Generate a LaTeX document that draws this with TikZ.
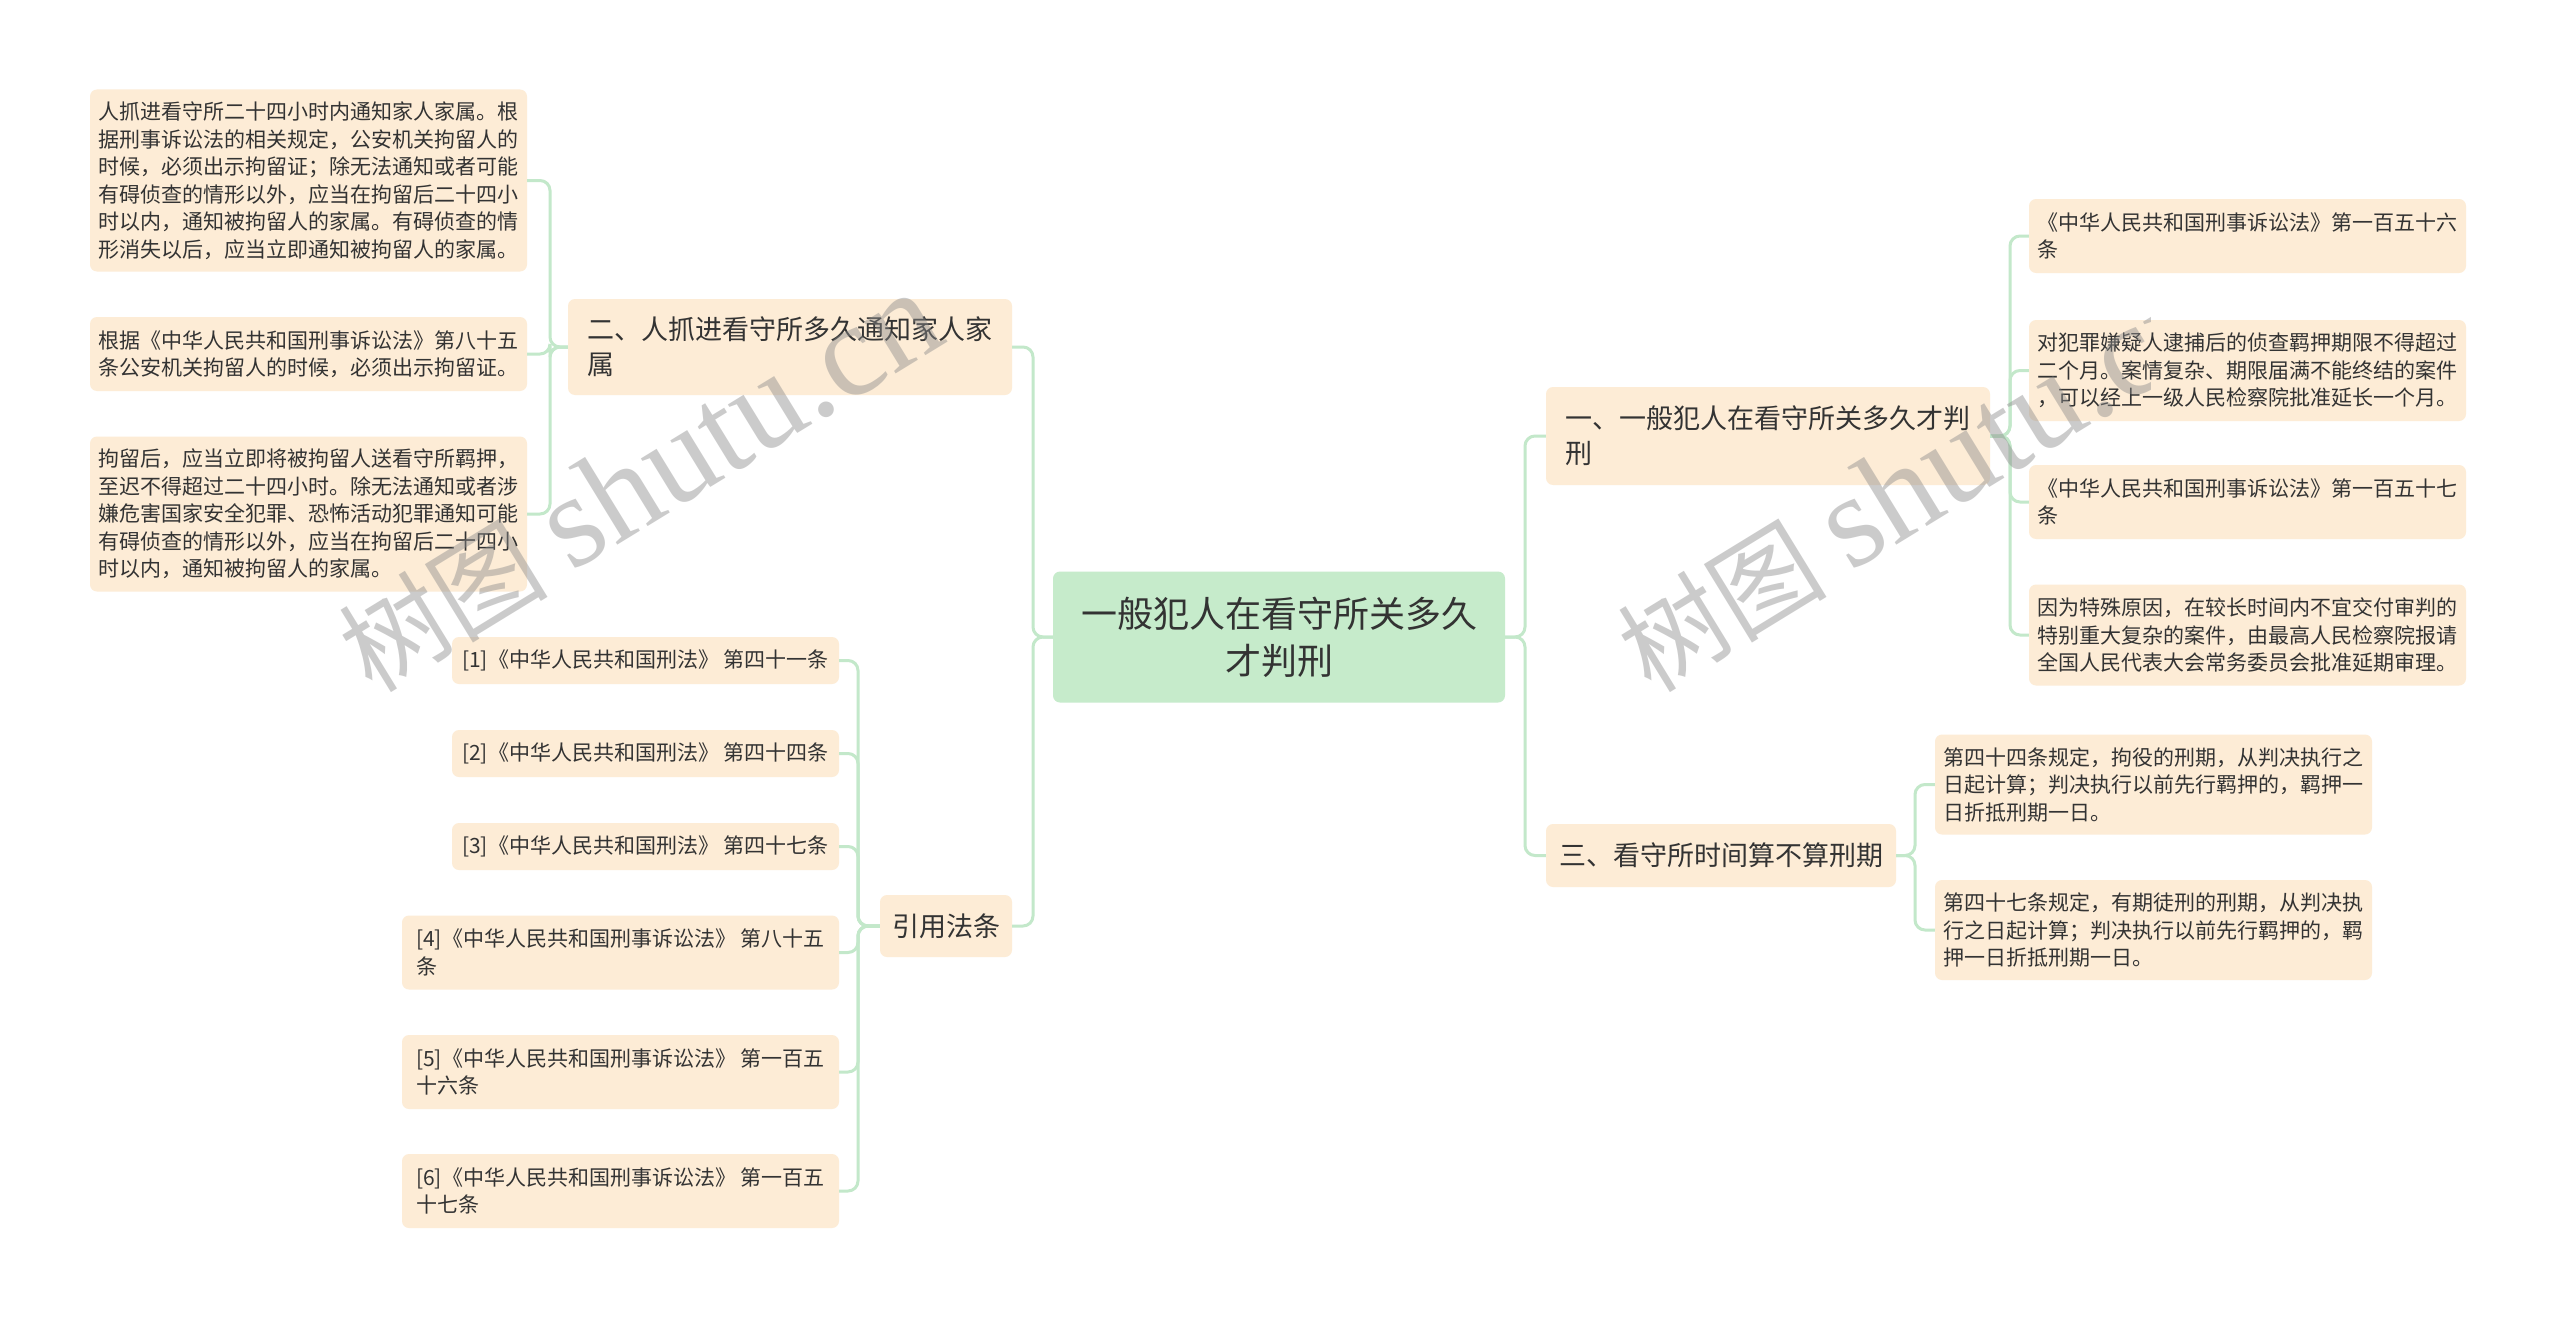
\documentclass[tikz,border=0pt]{standalone}
\usepackage{fontspec}
\setmainfont{Noto Sans CJK SC}
\newfontfamily\wmlatin{Liberation Serif}
\definecolor{peach}{HTML}{FDECD6}
\definecolor{rootgreen}{HTML}{C6EBCB}
\definecolor{connc}{HTML}{C3E8CA}
\definecolor{txt}{HTML}{333333}
\definecolor{wmgray}{HTML}{8A8A8A}
\begin{document}
\begin{tikzpicture}[x=1pt,y=-1pt,
  leaf/.style={fill=peach, rounded corners=7pt, inner sep=0pt, align=left, text=txt,
    font=\fontsize{21}{27.5}\selectfont, minimum width=437pt},
  branch/.style={fill=peach, rounded corners=7pt, inner sep=0pt, align=left, text=txt,
    font=\fontsize{27}{35}\selectfont},
  rootbox/.style={fill=rootgreen, rounded corners=7pt, inner sep=0pt, align=center, text=txt,
    font=\fontsize{36}{47}\selectfont},
  conn/.style={draw=connc, line width=3pt, rounded corners=10pt},
  wm/.style={rotate=31.5, anchor=base west, inner sep=0pt, text=wmgray, text opacity=0.44}]

\fill[white] (0,0) rectangle (2560,1319);
\useasboundingbox (0,0) rectangle (2560,1319);

% root
\node[rootbox, minimum width=452pt, minimum height=131pt] (root) at (1279,637) {一般犯人在看守所关多久\\才判刑};

% left branch 二
\node[branch, minimum width=444pt, minimum height=96pt] (er) at (790,347) {二、人抓进看守所多久通知家人家\\属};
\node[leaf, minimum height=182pt] (l1) at (308.5,180.5) {人抓进看守所二十四小时内通知家人家属。根\\据刑事诉讼法的相关规定，公安机关拘留人的\\时候，必须出示拘留证；除无法通知或者可能\\有碍侦查的情形以外，应当在拘留后二十四小\\时以内，通知被拘留人的家属。有碍侦查的情\\形消失以后，应当立即通知被拘留人的家属。};
\node[leaf, minimum height=74pt] (l2) at (308.5,354) {根据《中华人民共和国刑事诉讼法》第八十五\\条公安机关拘留人的时候，必须出示拘留证。};
\node[leaf, minimum height=155pt] (l3) at (308.5,514) {拘留后，应当立即将被拘留人送看守所羁押，\\至迟不得超过二十四小时。除无法通知或者涉\\嫌危害国家安全犯罪、恐怖活动犯罪通知可能\\有碍侦查的情形以外，应当在拘留后二十四小\\时以内，通知被拘留人的家属。};

% left branch 引用法条
\node[branch, minimum width=132pt, minimum height=62pt] (yf) at (946,926) {引用法条};
\node[leaf, minimum width=387pt, minimum height=47pt] (c1) at (645.5,660.5) {[1]《中华人民共和国刑法》 第四十一条};
\node[leaf, minimum width=387pt, minimum height=47pt] (c2) at (645.5,753.5) {[2]《中华人民共和国刑法》 第四十四条};
\node[leaf, minimum width=387pt, minimum height=47pt] (c3) at (645.5,846.5) {[3]《中华人民共和国刑法》 第四十七条};
\node[leaf, minimum height=74pt] (c4) at (620.5,952.5) {[4]《中华人民共和国刑事诉讼法》 第八十五\\条};
\node[leaf, minimum height=74pt] (c5) at (620.5,1072) {[5]《中华人民共和国刑事诉讼法》 第一百五\\十六条};
\node[leaf, minimum height=74pt] (c6) at (620.5,1191) {[6]《中华人民共和国刑事诉讼法》 第一百五\\十七条};

% right branch 一
\node[branch, minimum width=444pt, minimum height=98pt] (yi) at (1768,436) {一、一般犯人在看守所关多久才判\\刑};
\node[leaf, minimum height=74pt] (r1) at (2247.5,236) {《中华人民共和国刑事诉讼法》第一百五十六\\条};
\node[leaf, minimum height=101pt] (r2) at (2247.5,370.5) {对犯罪嫌疑人逮捕后的侦查羁押期限不得超过\\二个月。案情复杂、期限届满不能终结的案件\\，可以经上一级人民检察院批准延长一个月。};
\node[leaf, minimum height=74pt] (r3) at (2247.5,502) {《中华人民共和国刑事诉讼法》第一百五十七\\条};
\node[leaf, minimum height=101pt] (r4) at (2247.5,635) {因为特殊原因，在较长时间内不宜交付审判的\\特别重大复杂的案件，由最高人民检察院报请\\全国人民代表大会常务委员会批准延期审理。};

% right branch 三
\node[branch, minimum width=350pt, minimum height=63pt] (san) at (1721,855.5) {三、看守所时间算不算刑期};
\node[leaf, minimum height=100pt] (t1) at (2153.5,784.5) {第四十四条规定，拘役的刑期，从判决执行之\\日起计算；判决执行以前先行羁押的，羁押一\\日折抵刑期一日。};
\node[leaf, minimum height=100pt] (t2) at (2153.5,930) {第四十七条规定，有期徒刑的刑期，从判决执\\行之日起计算；判决执行以前先行羁押的，羁\\押一日折抵刑期一日。};

% trunk coordinates
\coordinate (tA) at (550,0);
\coordinate (tB) at (858,0);
\coordinate (tC) at (1033,0);
\coordinate (tD) at (1525,0);
\coordinate (tE) at (2010,0);
\coordinate (tF) at (1915,0);

% connectors
\foreach \c in {er,yf} \draw[conn] (root.west) -- (root.west -| tC) |- (\c.east);
\foreach \c in {yi,san} \draw[conn] (root.east) -- (root.east -| tD) |- (\c.west);
\foreach \c in {l1,l2,l3} \draw[conn] (er.west) -- (er.west -| tA) |- (\c.east);
\foreach \c in {c1,c2,c3,c4,c5,c6} \draw[conn] (yf.west) -- (yf.west -| tB) |- (\c.east);
\foreach \c in {r1,r2,r3,r4} \draw[conn] (yi.east) -- (yi.east -| tE) |- (\c.west);
\foreach \c in {t1,t2} \draw[conn] (san.east) -- (san.east -| tF) |- (\c.west);

% watermarks
\node[wm] (wm1) at (372,695) {\fontsize{105}{105}\selectfont 树图 \wmlatin\fontsize{132}{132}\selectfont shutu.cn};
\begin{scope}
  \clip (0,0) rectangle (2150,1319);
  \node[wm] (wm2) at (1651,695) {\fontsize{105}{105}\selectfont 树图 \wmlatin\fontsize{132}{132}\selectfont shutu.cn};
\end{scope}
\end{tikzpicture}
\end{document}
